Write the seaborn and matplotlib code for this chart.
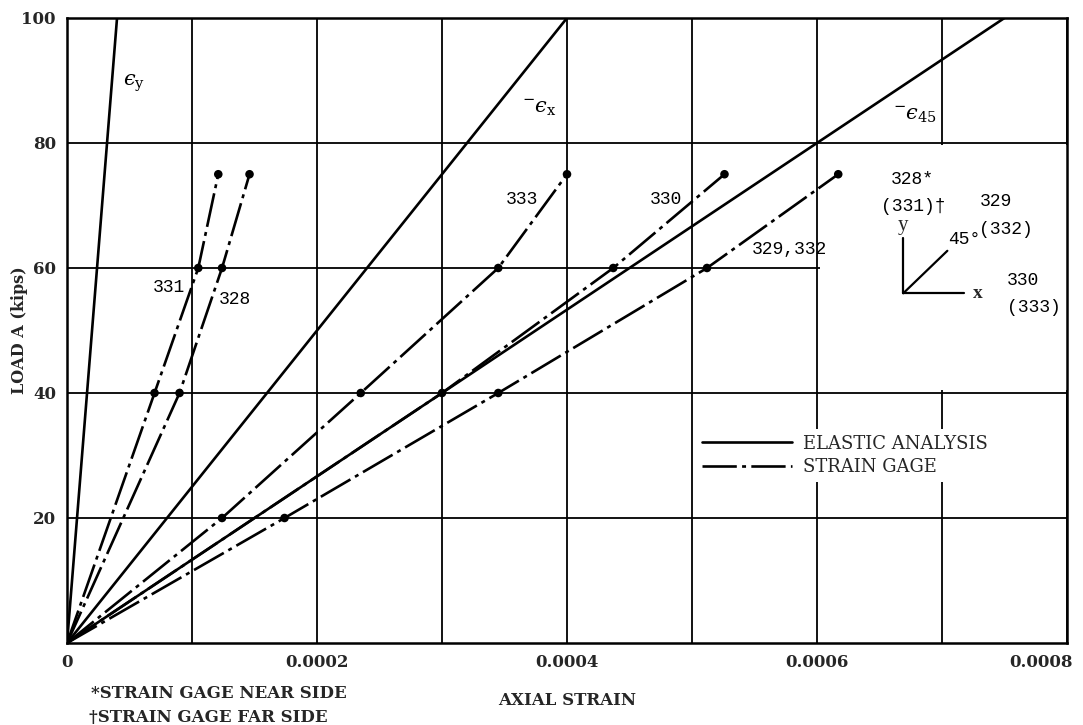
import matplotlib
matplotlib.use("Agg")
import matplotlib.pyplot as plt
import matplotlib.transforms as mtransforms
import seaborn as sns
from matplotlib.lines import Line2D
from matplotlib.patches import Rectangle

sns.set_style("white")
plt.rcParams["font.family"] = ["DejaVu Serif", "DejaVu Sans"]
plt.rcParams["mathtext.fontset"] = "dejavuserif"

# ---- elastic analysis (straight lines from the origin) ----
elastic_load = [0, 100]
strain_ey = [0, 0.00004]
strain_ex = [0, 0.0004]
strain_e45 = [0, 0.00075]

# ---- strain gage readings: load (kips) vs axial strain ----
load_331 = [0, 40, 60, 75]
strain_331 = [0, 0.00007, 0.000105, 0.000121]
load_328 = [0, 40, 60, 75]
strain_328 = [0, 0.00009, 0.000124, 0.000146]
load_333 = [0, 20, 40, 60, 75]
strain_333 = [0, 0.000124, 0.000235, 0.000345, 0.0004]
load_330 = [0, 40, 60, 75]
strain_330 = [0, 0.0003, 0.000437, 0.000526]
load_329 = [0, 20, 40, 60, 75]
strain_329 = [0, 0.000174, 0.000345, 0.000512, 0.000617]

x_ticks = [0, 0.0002, 0.0004, 0.0006, 0.0008]
x_tick_labels = ["0", "0.0002", "0.0004", "0.0006", "0.0008"]
x_minor = [0.0001, 0.0003, 0.0005, 0.0007]
y_ticks = [20, 40, 60, 80, 100]
y_tick_labels = ["20", "40", "60", "80", "100"]

INK = "black"
DASHDOT = (0, (13, 2, 1.5, 2))
LW = 1.9

fig = plt.figure(figsize=(10.83, 7.25), dpi=100)
ax = fig.add_axes([0.0619, 0.1131, 0.9233, 0.8621])
ax.set_xlim(0, 0.0008)
ax.set_ylim(0, 100)

# grid
ax.set_axisbelow(True)
ax.set_xticks(x_ticks)
ax.set_xticks(x_minor, minor=True)
ax.set_yticks(y_ticks)
ax.set_xticklabels(x_tick_labels, fontsize=12, fontweight="bold")
ax.set_yticklabels(y_tick_labels, fontsize=12, fontweight="bold")
ax.grid(True, which="both", color=INK, lw=1.3)
ax.tick_params(which="both", length=0, pad=8)
for sp in ax.spines.values():
    sp.set_color(INK)
    sp.set_linewidth(1.8)

# keep the last strain label inside the figure
last = ax.get_xticklabels()[-1]
last.set_horizontalalignment("right")
last.set_transform(last.get_transform()
                   + mtransforms.ScaledTranslation(0.06, 0, fig.dpi_scale_trans))

# blank panel behind the gage rosette sketch
ax.add_patch(Rectangle((0.0006025, 40.4), 0.0002, 39.2, facecolor="white",
                       edgecolor="none", zorder=0.8))

# elastic analysis lines
for s in (strain_ey, strain_ex, strain_e45):
    sns.lineplot(x=s, y=elastic_load, ax=ax, color=INK, lw=LW, sort=False,
                 estimator=None, zorder=3)

# strain gage curves with their reading points
gages = [(strain_331, load_331), (strain_328, load_328), (strain_333, load_333),
         (strain_330, load_330), (strain_329, load_329)]
for s, ld in gages:
    sns.lineplot(x=s, y=ld, ax=ax, color=INK, lw=LW, linestyle=DASHDOT,
                 sort=False, estimator=None, zorder=3)
    sns.scatterplot(x=s[1:], y=ld[1:], ax=ax, color=INK, s=38,
                    edgecolor="none", zorder=4)

# curve labels
MONO = ["Liberation Mono", "DejaVu Sans Mono"]
num_font = dict(family=MONO, fontsize=13, color=INK, va="center")
ax.text(0.0000688, 56.9, "331", ha="left", **num_font)
ax.text(0.0001216, 54.9, "328", ha="left", **num_font)
ax.text(0.000377, 70.9, "333", ha="right", **num_font)
ax.text(0.000492, 70.9, "330", ha="right", **num_font)
ax.text(0.000548, 62.9, "329,332", ha="left", **num_font)

eps_font = dict(fontsize=15, color=INK, va="center", ha="left")
ax.text(0.0000448, 89.6, "$\u03f5_{\\mathrm{y}}$", **eps_font)
ax.text(0.000364, 85.6, "$^{-}\u03f5_{\\mathrm{x}}$", **eps_font)
ax.text(0.000661, 84.6, "$^{-}\u03f5_{45}$", **eps_font)

# gage rosette sketch
ox, oy = 0.000669, 55.95
ax.plot([ox, ox], [oy, oy + 8.8], color=INK, lw=1.6, zorder=3)
ax.plot([ox, ox + 0.000049], [oy, oy], color=INK, lw=1.6, zorder=3)
ax.plot([ox, ox + 0.0000353], [oy, oy + 6.8], color=INK, lw=1.6, zorder=3)
ax.text(ox, oy + 10.9, "y", ha="center", va="center", fontsize=15,
        family="Liberation Serif")
ax.text(ox + 0.00006, oy, "x", ha="center", va="center", fontsize=14,
        family="Liberation Serif", fontweight="bold")
ax.text(0.0007176, 64.6, "45°", ha="center", **num_font)
ax.text(0.0006765, 74.1, "328*", ha="center", **num_font)
ax.text(0.000677, 69.8, "(331)\u2020", ha="center", **num_font)
ax.text(0.00073, 70.6, "329", ha="left", **num_font)
ax.text(0.00073, 66.1, "(332)", ha="left", **num_font)
ax.text(0.000752, 58.0, "330", ha="left", **num_font)
ax.text(0.000752, 53.7, "(333)", ha="left", **num_font)

# legend
handles = [Line2D([], [], color=INK, lw=LW),
           Line2D([], [], color=INK, lw=LW, linestyle=DASHDOT)]
leg = ax.legend(handles, ["ELASTIC ANALYSIS", "STRAIN GAGE"],
                loc="center left", bbox_to_anchor=(0.0005036, 30.0),
                bbox_transform=ax.transData, borderaxespad=0, frameon=True,
                facecolor="white", edgecolor="none", framealpha=1,
                fancybox=False, handlelength=5.0, handletextpad=0.6,
                labelspacing=0.33, borderpad=0.3,
                prop={"family": "DejaVu Serif", "size": 13})

ax.set_xlabel("AXIAL STRAIN", fontsize=12, fontweight="bold", labelpad=15)
ax.set_ylabel("LOAD A (kips)", fontsize=11.5, fontweight="bold")
ax.yaxis.set_label_coords(-0.039, 0.5)

fig.text(0.084, 0.044, "*STRAIN GAGE NEAR SIDE", fontsize=12,
         fontweight="bold", va="center", ha="left")
fig.text(0.082, 0.011, "\u2020STRAIN GAGE FAR SIDE", fontsize=12,
         fontweight="bold", va="center", ha="left")

fig.savefig("out.png", dpi=100)
